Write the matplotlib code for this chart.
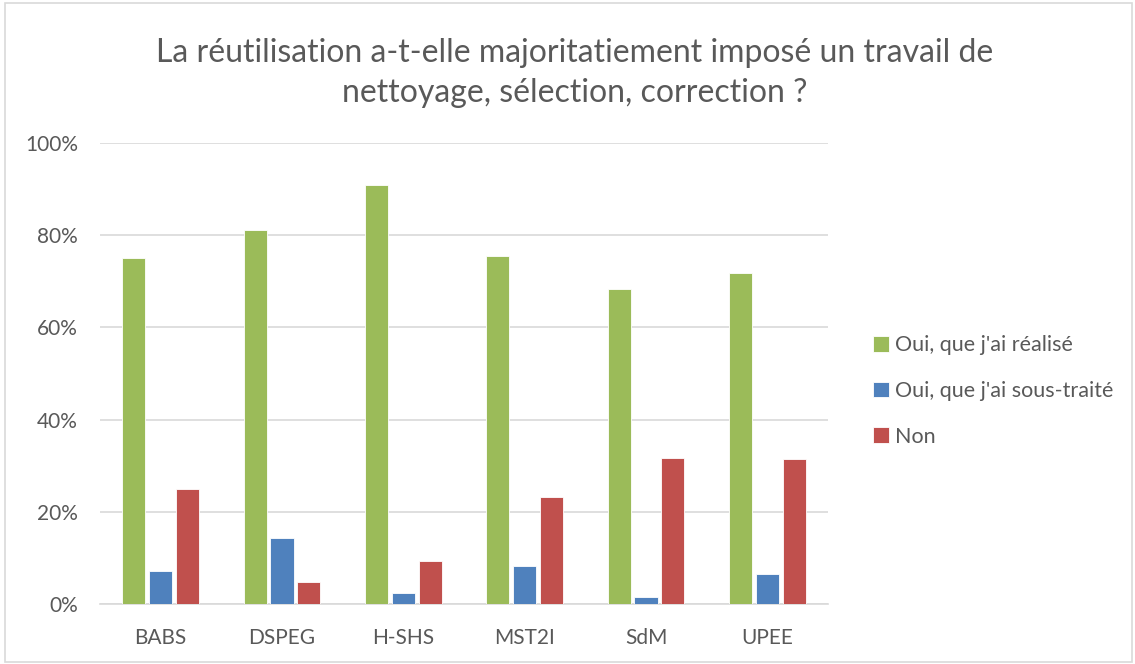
import numpy as np
import matplotlib.pyplot as plt
from matplotlib.patches import Rectangle
from matplotlib.ticker import PercentFormatter

plt.rcParams['font.family'] = ['Lato', 'DejaVu Sans']

# données
categories = ['BABS', 'DSPEG', 'H-SHS', 'MST2I', 'SdM', 'UPEE']
oui_realise = [75.1, 81.1, 90.8, 75.4, 68.4, 71.8]
oui_soustraite = [7.1, 14.3, 2.3, 8.3, 1.6, 6.4]
non = [25.0, 4.7, 9.3, 23.3, 31.7, 31.5]
series_labels = ["Oui, que j'ai réalisé", "Oui, que j'ai sous-traité", "Non"]
colors = ['#9BBB59', '#4F81BD', '#C0504D']

W, H = 1135, 664
fig = plt.figure(figsize=(W / 100, H / 100), dpi=100)
ax = fig.add_axes([100 / W, (H - 604) / H, 728 / W, 461 / H])

x = np.arange(len(categories))
width = 0.19
step = 0.222
series = [oui_realise, oui_soustraite, non]
for i, (vals, lab, col) in enumerate(zip(series, series_labels, colors)):
    ax.bar(x + (i - 1) * step, vals, width, color=col, label=lab,
           edgecolor='white', linewidth=0.6, zorder=3)

ax.set_xlim(-0.5, len(categories) - 0.5)
ax.set_ylim(0, 100)
ax.set_yticks(np.arange(0, 101, 20))
ax.yaxis.set_major_formatter(PercentFormatter(decimals=0))
ax.set_xticks(x)
ax.set_xticklabels(categories)
ax.grid(axis='y', color='#D9D9D9', linewidth=1.2, zorder=0)
for s in ['top', 'right', 'left']:
    ax.spines[s].set_visible(False)
ax.spines['bottom'].set_color('#D9D9D9')
ax.spines['bottom'].set_linewidth(1.2)
ax.tick_params(axis='both', length=0, labelsize=15, labelcolor='#595959')
ax.tick_params(axis='x', pad=17)
ax.tick_params(axis='y', pad=16)

fig.text(575 / W, 1 - 73 / H,
         "La réutilisation a-t-elle majoritatiement imposé un travail de\nnettoyage, sélection, correction ?",
         ha='center', va='center', fontsize=23, color='#595959', linespacing=1.38)

leg = ax.legend(loc='center left', bbox_to_anchor=(1.035, 0.462), frameon=False,
                fontsize=15.5, labelcolor='#595959', handlelength=0.75,
                handleheight=0.75, handletextpad=0.3, labelspacing=1.2)

fig.patches.append(Rectangle((5 / W, 2 / H), (W - 8) / W, (H - 5) / H,
                             transform=fig.transFigure, fill=False,
                             edgecolor='#D9D9D9', linewidth=1.2))

fig.savefig('out.png', dpi=100)
